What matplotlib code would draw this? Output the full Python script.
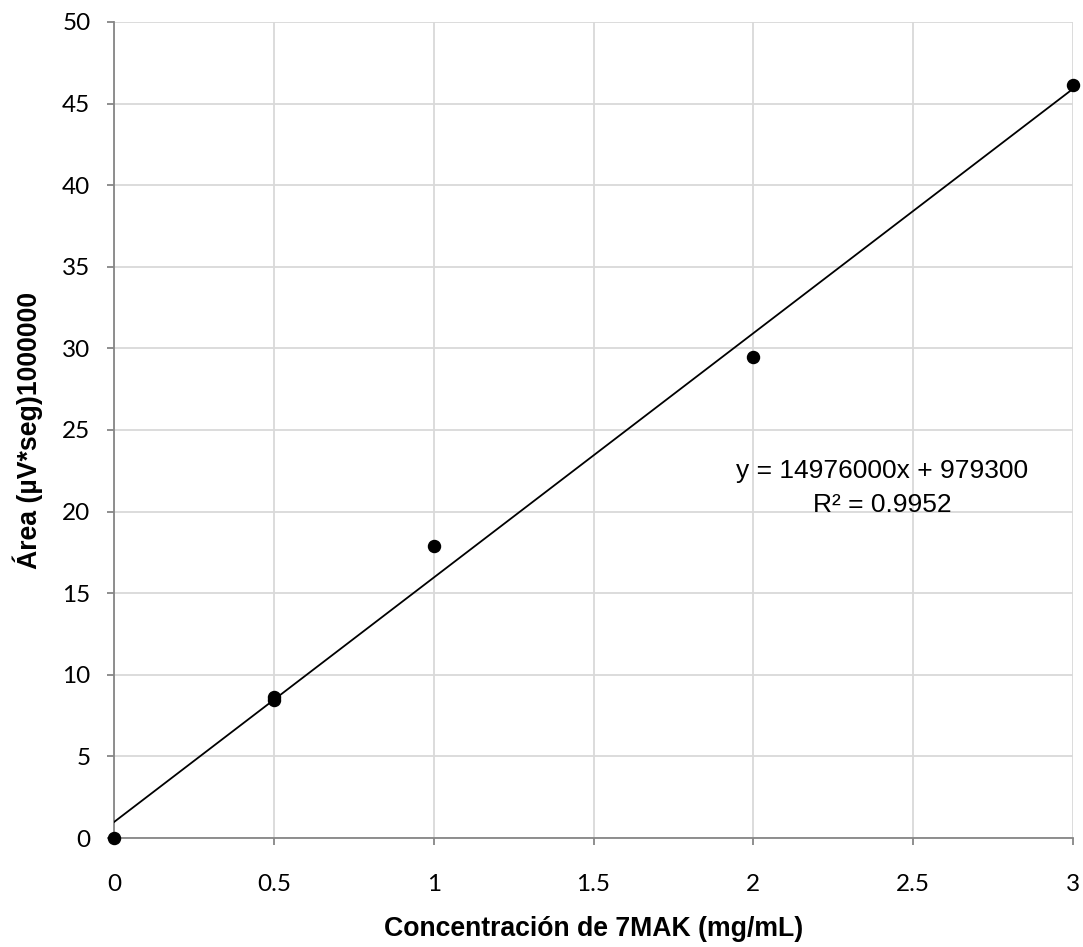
import matplotlib
matplotlib.use("Agg")
import matplotlib.pyplot as plt
import numpy as np

# datos de la curva de calibración (área en millones)
conc = [0, 0.5, 0.5, 1, 2, 3]
area = [0, 8.45, 8.65, 17.9, 29.5, 46.15]

# ajuste lineal reportado
pendiente = 14.976
intercepto = 0.9793
ecuacion = "y = 14976000x + 979300"
r2 = "R² = 0.9952"

xticks = [0, 0.5, 1, 1.5, 2, 2.5, 3]
yticks = [0, 5, 10, 15, 20, 25, 30, 35, 40, 45, 50]

fig = plt.figure(figsize=(10.83, 9.47), dpi=100)
ax = fig.add_axes([0.1053, 0.1151, 0.8855, 0.8617])

xl = np.array([0, 3])
ax.plot(xl, pendiente * xl + intercepto, color="black", lw=1.3, zorder=3)
ax.scatter(conc, area, s=75, color="black", zorder=4, clip_on=False)

ax.set_xlim(0, 3)
ax.set_ylim(0, 50)
ax.set_xticks(xticks)
ax.set_yticks(yticks)
ax.set_xticklabels([f"{t:g}" for t in xticks], fontfamily="Lato", fontsize=17.5)
ax.set_yticklabels([f"{t:g}" for t in yticks], fontfamily="Lato", fontsize=17.5)

ax.grid(True, color="#d9d9d9", lw=1.3)
ax.set_axisbelow(True)
for s in ["top", "right"]:
    ax.spines[s].set_visible(False)
for s in ["left", "bottom"]:
    ax.spines[s].set_color("#868686")
    ax.spines[s].set_linewidth(1.3)
ax.tick_params(direction="out", length=5, color="#868686", width=1.3)
ax.tick_params(axis="x", pad=21)
ax.tick_params(axis="y", pad=12)

ax.set_xlabel("Concentración de 7MAK (mg/mL)", fontfamily="Liberation Sans",
              fontweight="bold", fontsize=19.2, labelpad=15)
ax.set_ylabel("Área (µV*seg)1000000", fontfamily="Liberation Sans",
              fontweight="bold", fontsize=19.2, labelpad=14)

ax.text(2.403, 22.5, ecuacion, ha="center", va="center",
        fontfamily="Liberation Sans", fontsize=19)
ax.text(2.403, 20.4, r2, ha="center", va="center",
        fontfamily="Liberation Sans", fontsize=19)

fig.savefig("out.png", dpi=100)
